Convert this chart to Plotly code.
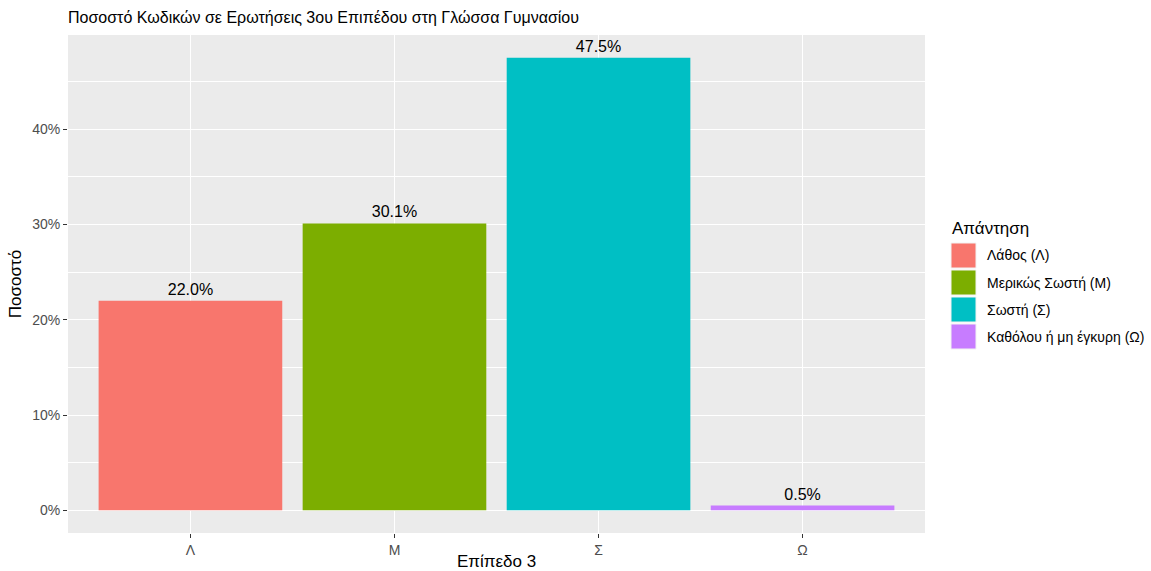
import plotly.graph_objects as go

categories = ["Λ", "Μ", "Σ", "Ω"]
values = [22.0, 30.1, 47.5, 0.5]
legend_labels = ["Λάθος (Λ)", "Μερικώς Σωστή (Μ)", "Σωστή (Σ)", "Καθόλου ή μη έγκυρη (Ω)"]
colors = ["#F8766D", "#7CAE00", "#00BFC4", "#C77CFF"]
y_ticks = [0, 10, 20, 30, 40]

W, H = 1151, 571
L, R, T, B = 68, 925, 35, 533
pw, ph = R - L, B - T

def px(x):
    return (x - L) / pw

def py(y):
    return (B - y) / ph

FONT = "Liberation Sans, Arial, sans-serif"

fig = go.Figure()
fig.add_trace(go.Bar(
    x=categories, y=values, width=0.9,
    marker=dict(color=colors, line=dict(width=0)),
    text=[f"{v:.1f}%" for v in values],
    textposition="outside",
    textfont=dict(size=16, color="#000000", family=FONT),
    cliponaxis=False, showlegend=False,
))

shapes = []
annotations = []
annotations.append(dict(x=px(950), y=py(228), xref="paper", yref="paper", xanchor="left", yanchor="middle",
                        text="Απάντηση", showarrow=False, font=dict(size=17, color="#000000")))
for i, (lab, col) in enumerate(zip(legend_labels, colors)):
    y0 = 243 + i * 27
    shapes.append(dict(type="rect", xref="paper", yref="paper", x0=px(951), x1=px(976),
                       y0=py(y0 + 25), y1=py(y0), fillcolor=col, line=dict(color="#F2F2F2", width=1)))
    annotations.append(dict(x=px(985), y=py(y0 + 12.5), xref="paper", yref="paper", xanchor="left",
                            yanchor="middle", text=lab, showarrow=False, font=dict(size=14, color="#000000")))

fig.update_layout(
    width=W, height=H,
    margin=dict(l=L, r=W - R, t=T, b=H - B, pad=0, autoexpand=False),
    paper_bgcolor="white", plot_bgcolor="#EBEBEB",
    font=dict(family=FONT, color="#000000"),
    title=dict(text="Ποσοστό Κωδικών σε Ερωτήσεις 3ου Επιπέδου στη Γλώσσα Γυμνασίου",
               x=px(L), xref="paper", xanchor="left", y=1 - 17 / H, yanchor="middle",
               font=dict(size=16, color="#000000"), automargin=False),
    shapes=shapes, annotations=annotations,
    bargap=0.1,
)
fig.update_xaxes(
    type="category", range=[-0.6, 3.6], showgrid=True, gridcolor="white", gridwidth=1.4,
    ticks="outside", ticklen=4, tickcolor="#333333", tickwidth=1.2, automargin=False,
    tickfont=dict(size=14, color="#4D4D4D"), zeroline=False, showline=False,
    title=dict(text="Επίπεδο 3", font=dict(size=17, color="#000000"), standoff=6),
)
fig.update_yaxes(
    range=[-2.375, 49.875], tickvals=y_ticks, ticktext=[f"{t}%" for t in y_ticks],
    showgrid=True, gridcolor="white", gridwidth=1.4, automargin=False,
    minor=dict(tickvals=[5, 15, 25, 35, 45], showgrid=True, gridcolor="white", gridwidth=0.6, ticks=""),
    ticks="outside", ticklen=4, tickcolor="#333333", tickwidth=1.2,
    tickfont=dict(size=14, color="#4D4D4D"), zeroline=False, showline=False,
    title=dict(text="Ποσοστό", font=dict(size=17, color="#000000"), standoff=6),
)

fig.write_html("out.html", config={"displayModeBar": False},
               post_script="document.body.style.margin='0';")
